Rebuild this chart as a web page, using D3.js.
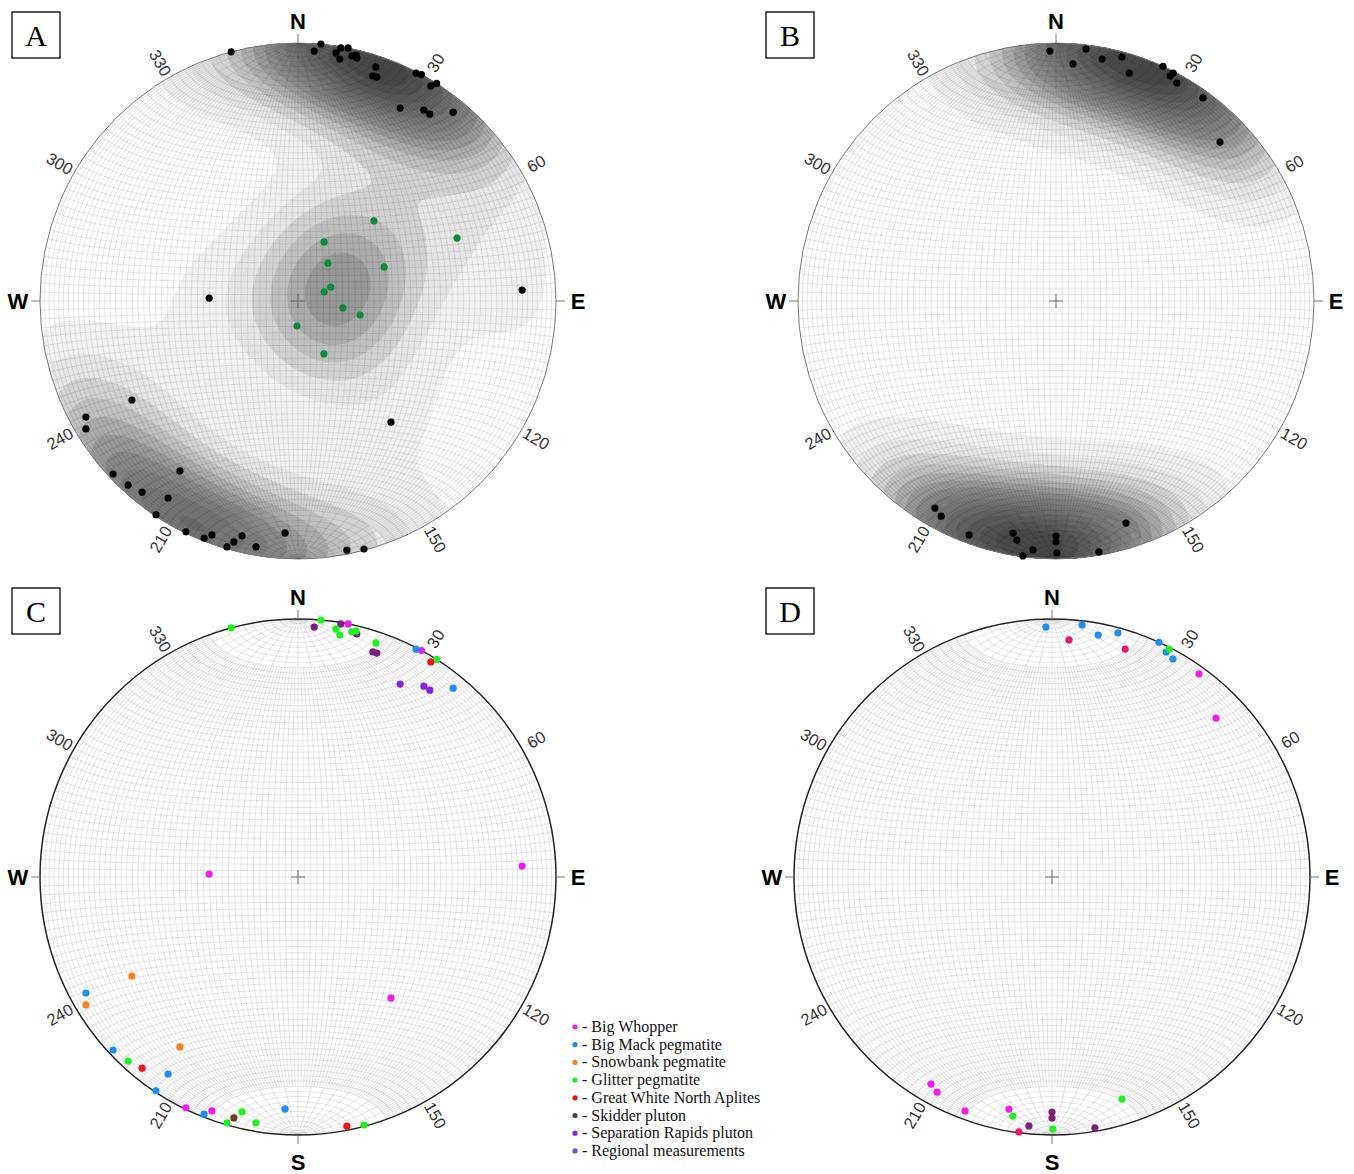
<!DOCTYPE html>
<html><head><meta charset="utf-8">
<script src="https://cdn.jsdelivr.net/npm/d3@7"></script>
<style>body{margin:0;background:#fff} svg{display:block}</style>
</head><body>
<svg id="chart" width="1354" height="1174"></svg>
<script>
// ---------- DATA (trend, plunge in degrees) ----------
const tickAzimuths = [30, 60, 120, 150, 210, 240, 300, 330];
const cardinalLabels = ["N", "E", "S", "W"];
const cardinalAzimuths = [0, 90, 180, 270];
const panelLetters = ["A", "B", "C", "D"];
const legendNames = ["Big Whopper", "Big Mack pegmatite", "Snowbank pegmatite", "Glitter pegmatite",
  "Great White North Aplites", "Skidder pluton", "Separation Rapids pluton", "Regional measurements"];

// Data set 1 (panels A and C)
const cBigWhopper = [[11.2,0],[28.6,0],[271.9,61.8],[87.2,14.1],[142.5,40.5],[205.9,0.6],[200.2,3.8]];
const cBigMack = [[27.4,0.6],[39.4,5.9],[241.3,7.0],[226.9,2.1],[213.4,9.4],[213.6,0.6],[201.6,1.3],[183.2,10.9]];
const cSnowbank = [[239.2,26.0],[238.9,4.5],[214.8,20.9]];
const cGlitter = [[345.0,0],[5.1,0],[8.7,3.1],[9.8,5.4],[12.4,3.1],[13.3,2.3],[18.4,4.9],[32.5,0],[222.7,3.3],[193.4,7.1],[196.1,0.9],[189.7,3.7],[165.1,0.6]];
const cGreatWhite = [[31.7,2.3],[219.2,4.9],[168.9,1.8]];
const cSkidder = [[194.9,3.8]];
const cSeparation = [[27.9,16.5],[33.4,12.4],[35.2,12.4]];
const cUnassigned = [[3.7,3.3],[9.6,0.6],[13.6,3.5],[18.4,8.9],[19.4,8.8]];
// Shallow-dipping set shown only in panel A (green)
const aShallow = [[43.5,54.8],[68.4,34.1],[23.8,69.6],[38.3,74.8],[68.4,60.6],[67.0,78.8],[70.9,81.3],[98.8,75.7],[102.7,69.9],[182.3,82.1],[153.9,71.4]];

// Data set 2 (panels B and D)
const dBigWhopper = [[35.9,3.2],[45.9,12.5],[210.3,7.8],[208.1,6.1],[200.4,3.7],[190.5,9.4]];
const dBigMack = [[358.6,3.5],[6.8,1.9],[10.8,5.1],[15.1,2.3],[24.5,0],[26.9,2.5],[29.0,3.8]];
const dGlitter = [[27.2,0.8],[189.3,6.8],[179.8,2.6],[162.5,10.7]];
const dPink = [[4.1,8.7],[17.8,8.0],[187.4,0.4]];
const dUnassigned = [[185.3,3.5],[180,9.8],[180,7.3],[170.3,1.5]];

// ---------- STYLE ----------
const legendColors = ["#f01cf0", "#1f8ef1", "#f5821f", "#1ff01f", "#f01414", "#6e3b1e", "#8b22e0", "#6a5acd"];
const otherPurple = "#7d1d7d", otherPink = "#e8186e", shallowGreen = "#0f8a3c";

const rad = Math.PI / 180;
const svg = d3.select("#chart");

function toUnit(t, p) {
  const d = Math.sin(p * rad), h = Math.cos(p * rad);
  const s = 1 / Math.sqrt(1 + d);
  return [h * Math.sin(t * rad) * s, h * Math.cos(t * rad) * s];
}
function vec3(t, p) {
  return [Math.cos(p * rad) * Math.sin(t * rad), Math.cos(p * rad) * Math.cos(t * rad), Math.sin(p * rad)];
}

let clipId = 0;
function drawPanel(cfg) {
  const { cx, cy, R, letter, ly } = cfg;
  const g = svg.append("g");
  const x = d3.scaleLinear().domain([-1, 1]).range([cx - R, cx + R]);
  const y = d3.scaleLinear().domain([-1, 1]).range([cy + R, cy - R]);
  const id = "clip" + (clipId++);
  g.append("clipPath").attr("id", id).append("circle").attr("cx", cx).attr("cy", cy).attr("r", R);
  g.append("circle").attr("cx", cx).attr("cy", cy).attr("r", R).attr("fill", "#fff");
  const inner = g.append("g").attr("clip-path", `url(#${id})`);

  // density shading
  if (cfg.density) {
    const vecs = cfg.density.map(d => vec3(d[0], d[1]));
    const step = 3, k = cfg.k;
    const n = Math.ceil(2 * R / step) + 1;
    const vals = new Float64Array(n * n);
    let max = 0;
    for (let j = 0; j < n; j++) for (let i = 0; i < n; i++) {
      let X = (i * step - R) / R, Y = (R - j * step) / R;
      let r2 = X * X + Y * Y;
      if (r2 > 1) { const s = 1 / Math.sqrt(r2); X *= s; Y *= s; r2 = 1; }
      const dd = 1 - r2, f = Math.sqrt(1 + dd);
      const e = X * f, nn = Y * f;
      let sum = 0;
      for (const v of vecs) sum += Math.exp(k * ((e * v[0] + nn * v[1] + dd * v[2]) - 1));
      vals[j * n + i] = sum;
      if (sum > max) max = sum;
    }
    const nl = cfg.levels;
    const thresholds = d3.range(1, nl + 1).map(i => max * i / (nl + 1));
    const col = d3.scaleLinear().domain([0, 0.12, 0.45, 1])
      .range(["#fbfbfb", "#ebebeb", "#8a8a8a", "#404040"]).interpolate(d3.interpolateRgb);
    const contours = d3.contours().size([n, n]).thresholds(thresholds)(vals);
    const path = d3.geoPath(d3.geoIdentity().scale(step).translate([cx - R - step / 2, cy - R - step / 2]));
    inner.selectAll("path.ct").data(contours).join("path").attr("class", "ct")
      .attr("d", path).attr("fill", d => col(d.value / max));
  }

  // meridional net grid
  const line = d3.line().x(d => x(d[0])).y(d => y(d[1]));
  const netPt = (lam, al) => {
    const v = [Math.cos(lam * rad) * Math.cos(al * rad), Math.sin(lam * rad), Math.cos(lam * rad) * Math.sin(al * rad)];
    const s = 1 / Math.sqrt(1 + v[2]);
    return [v[0] * s, v[1] * s];
  };
  const grid = inner.append("g").attr("fill", "none").attr("stroke", "#000")
    .attr("stroke-opacity", 0.085).attr("stroke-width", 1.1);
  for (let al = 2; al < 180; al += 2) {
    const lim = al % 10 === 0 ? 90 : 70;
    grid.append("path").attr("d", line(d3.range(-lim, lim + 0.5, 1).map(l => netPt(l, al))));
  }
  for (let lam = -88; lam <= 88; lam += 2) {
    grid.append("path").attr("d", line(d3.range(0, 180.5, 1).map(a => netPt(lam, a))));
  }

  // rim, ticks, cross
  g.append("circle").attr("cx", cx).attr("cy", cy).attr("r", R).attr("fill", "none")
    .attr("stroke", cfg.rim).attr("stroke-width", cfg.rimW);
  cardinalAzimuths.forEach((az, i) => {
    if (az === 180 && !cfg.showS) return;
    const s = Math.sin(az * rad), c = Math.cos(az * rad);
    g.append("line").attr("x1", cx + R * s).attr("y1", cy - R * c)
      .attr("x2", cx + (R + 9) * s).attr("y2", cy - (R + 9) * c).attr("stroke", "#777").attr("stroke-width", 1);
    const off = az === 180 ? 285 : 280;
    g.append("text").attr("x", cx + off * s).attr("y", cy - off * c)
      .attr("text-anchor", "middle").attr("dominant-baseline", "central")
      .style("font", "bold 22px 'Liberation Sans', Arial, sans-serif").text(cardinalLabels[i]);
  });
  g.append("path").attr("d", `M${cx - 7},${cy}H${cx + 7}M${cx},${cy - 7}V${cy + 7}`)
    .attr("stroke", "#666").attr("stroke-width", 1);
  tickAzimuths.forEach(az => {
    const rr = R + 17;
    const tx = cx + rr * Math.sin(az * rad), ty = cy - rr * Math.cos(az * rad);
    const rot = az < 180 ? az - 90 : az - 270;
    g.append("text").attr("x", tx).attr("y", ty).attr("text-anchor", "middle").attr("dominant-baseline", "central")
      .attr("transform", `rotate(${rot},${tx},${ty})`).attr("fill", "#333")
      .style("font", "16.5px 'Liberation Sans', Arial, sans-serif").text(az);
  });

  // points
  cfg.series.forEach(s => {
    g.append("g").selectAll("circle").data(s.pts).join("circle")
      .attr("cx", d => x(toUnit(d[0], d[1])[0])).attr("cy", d => y(toUnit(d[0], d[1])[1]))
      .attr("r", s.r || 3.6).attr("fill", s.color);
  });

  // panel letter
  g.append("rect").attr("x", cfg.lx).attr("y", ly).attr("width", 48).attr("height", 46)
    .attr("fill", "#fff").attr("stroke", "#000").attr("stroke-width", 1.3);
  g.append("text").attr("x", cfg.lx + 24).attr("y", ly + 34).attr("text-anchor", "middle")
    .style("font", "30px 'Liberation Serif', 'Times New Roman', serif").text(letter);
}

const set1 = [cBigWhopper, cBigMack, cSnowbank, cGlitter, cGreatWhite, cSkidder, cSeparation, cUnassigned];
const set2 = [dBigWhopper, dBigMack, dGlitter, dPink, dUnassigned];
const all1 = set1.flat();
const all2 = set2.flat();

drawPanel({ cx: 298, cy: 301, R: 258, letter: panelLetters[0], lx: 12, ly: 12, rim: "#777", rimW: 1,
  density: all1.concat(aShallow), k: 12, levels: 14, showS: false,
  series: [{ pts: all1, color: "#000" }, { pts: aShallow, color: shallowGreen }] });
drawPanel({ cx: 1056, cy: 301, R: 258, letter: panelLetters[1], lx: 766, ly: 12, rim: "#777", rimW: 1,
  density: all2, k: 12, levels: 14, showS: false,
  series: [{ pts: all2, color: "#000" }] });
drawPanel({ cx: 298, cy: 877, R: 258, letter: panelLetters[2], lx: 12, ly: 588, rim: "#222", rimW: 1.5, showS: true,
  series: [
    { pts: cUnassigned, color: otherPurple },
    { pts: cBigWhopper, color: legendColors[0] },
    { pts: cBigMack, color: legendColors[1] },
    { pts: cSnowbank, color: legendColors[2] },
    { pts: cGlitter, color: legendColors[3] },
    { pts: cGreatWhite, color: legendColors[4] },
    { pts: cSkidder, color: legendColors[5] },
    { pts: cSeparation, color: legendColors[6] }
  ] });
drawPanel({ cx: 1052, cy: 877, R: 258, letter: panelLetters[3], lx: 766, ly: 588, rim: "#222", rimW: 1.5, showS: true,
  series: [
    { pts: dBigWhopper, color: legendColors[0] },
    { pts: dBigMack, color: legendColors[1] },
    { pts: dGlitter, color: legendColors[3] },
    { pts: dPink, color: otherPink },
    { pts: dUnassigned, color: otherPurple }
  ] });

// legend
const lg = svg.append("g").attr("transform", "translate(575,1027)");
legendNames.forEach((nm, i) => {
  lg.append("circle").attr("cx", 0).attr("cy", i * 17.7).attr("r", 2.6).attr("fill", legendColors[i]);
  lg.append("text").attr("x", 7).attr("y", i * 17.7 + 5)
    .style("font", "16px 'Liberation Serif', 'Times New Roman', serif").attr("fill", "#111").text("- " + nm);
});
</script>
</body></html>
